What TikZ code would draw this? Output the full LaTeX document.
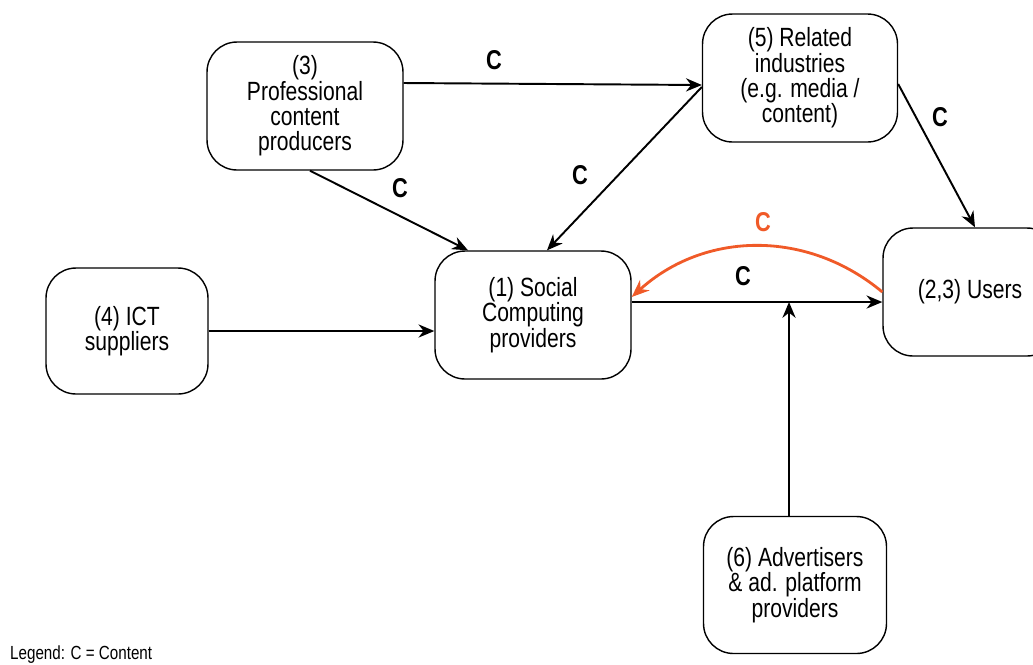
\documentclass[tikz,border=0pt]{standalone}
\usepackage{fontspec}
\setmainfont[FakeStretch=0.8]{Liberation Sans}
\usetikzlibrary{arrows.meta}
\definecolor{contentorange}{RGB}{240,90,40}
\tikzset{
  block/.style={rectangle, rounded corners=0.6cm, draw=black, line width=0.8pt, align=center, font=\fontsize{15}{14.4}\selectfont},
  flow/.style={black, line width=1.1pt, -{Stealth[length=9pt,width=7.5pt]}},
  clabel/.style={font=\fontsize{15.5}{15}\selectfont\bfseries},
}
\begin{document}
\begin{tikzpicture}[x=0.02cm,y=-0.02cm]
                \useasboundingbox (0,0) rectangle (1033,664);

                \node[block, minimum width=3.92cm, minimum height=2.56cm] (prof)  at (305,106) {(3)\\Professional\\content\\producers};
                \node[block, minimum width=3.90cm, minimum height=2.56cm] (rel)   at (800,78)  {(5) Related\\industries\\(e.g. media /\\content)};
                \node[block, minimum width=3.24cm, minimum height=2.52cm] (ict)   at (127,331) {(4) ICT\\suppliers};
                \node[block, minimum width=3.92cm, minimum height=2.56cm] (soc)   at (533,315) {(1) Social\\Computing\\providers};
                \node[block, minimum width=3.48cm, minimum height=2.56cm] (users) at (970,292) {(2,3) Users};
                \node[block, minimum width=3.66cm, minimum height=2.74cm] (adv)   at (795,585) {(6) Advertisers\\\& ad. platform\\providers};

                \coordinate (socout) at ([yshift=0.26cm]soc.east);

                \draw[flow] ([yshift=0.46cm]prof.east) -- ([yshift=-0.14cm]rel.west);
                \draw[flow] ([xshift=0.1cm]prof.south) -- ([xshift=-1.3cm]soc.north);
                \draw[flow] ([yshift=-0.18cm]rel.west) -- ([xshift=0.28cm]soc.north);
                \draw[flow] ([yshift=-0.12cm]rel.east) -- ([xshift=0.1cm]users.north);
                \draw[flow] (ict.east) -- (ict.east -| soc.west);
                \draw[flow] (socout) -- (socout -| users.west);
                \draw[flow] ([xshift=-0.12cm]adv.north) -- ([xshift=-0.12cm]adv.north |- socout);
                \draw[contentorange, line width=1.6pt, -{Stealth[length=10pt,width=8pt]}] (users.west) to [bend right=41] ([yshift=0.36cm]soc.east);

                \node[clabel] (c1) at (494,60)  {C};
                \node[clabel] (c2) at (400,188) {C};
                \node[clabel] (c3) at (580,175) {C};
                \node[clabel] (c4) at (940,117) {C};
                \node[clabel] (c5) at (743,276) {C};
                \node[clabel, contentorange] (c6) at (763,222) {C};

                \node[anchor=west, font=\fontsize{10.8}{10}\selectfont] (legend) at (4,655) {Legend: C = Content};
            \end{tikzpicture}
\end{document}
